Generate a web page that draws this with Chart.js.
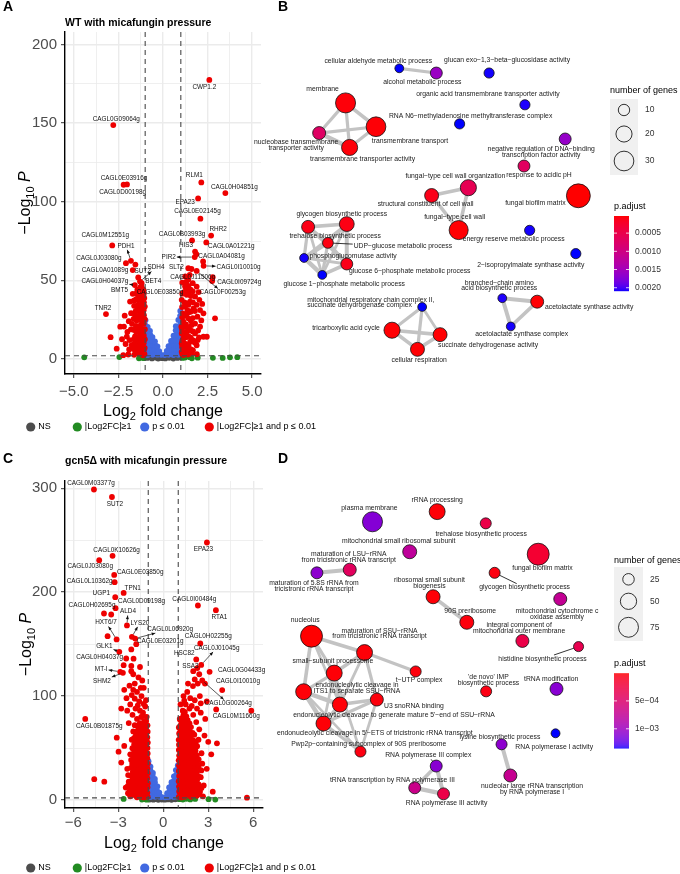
<!DOCTYPE html>
<html>
<head>
<meta charset="utf-8">
<title>Volcano plots and enrichment networks</title>
<script src="https://cdn.jsdelivr.net/npm/chart.js@4.4.1/dist/chart.umd.min.js"></script>
<style>
  html, body { margin: 0; padding: 0; background: #fff; }
  body { position: relative; width: 680px; height: 874px; overflow: hidden; font-family: 'Liberation Sans', Arial, sans-serif; }
  canvas { position: absolute; }
  .tag { position: absolute; font-weight: bold; font-size: 14px; line-height: 14px; color: #000; }
</style>
</head>
<body>
<canvas id="volcanoA" width="340" height="440" style="left:0;top:0"></canvas>
<canvas id="volcanoC" width="340" height="434" style="left:0;top:440px"></canvas>
<canvas id="networkB" width="444" height="440" style="left:236px;top:0"></canvas>
<canvas id="networkD" width="444" height="434" style="left:236px;top:440px"></canvas>
<div class="tag" style="left:3px;top:-1px">A</div>
<div class="tag" style="left:278px;top:-1px">B</div>
<div class="tag" style="left:3px;top:451px">C</div>
<div class="tag" style="left:278px;top:451px">D</div>
<script>
// ---------- volcano data (log2 fold change, -log10 p) ----------
const SERIES_NAMES = ['NS', '|Log2FC|\u22651', 'p \u2264 0.01', '|Log2FC|\u22651 and p \u2264 0.01'];
const FC_CUTOFF = 1;
const P_CUTOFF = 0.01;

// panel A: WT
const nsA = [[-0.88,0.6],[-0.74,1.3],[-0.62,0.3],[-0.5,1.6],[-0.38,0.8],[-0.27,0.2],[-0.16,1.2],[-0.06,0.5],[0.04,1.0],[0.13,0.3],[0.24,1.4],[0.35,0.7],[0.47,1.1],[0.58,0.2],[0.69,1.5],[0.82,0.6],[0.92,1.2],[-0.95,1.4],[-0.1,1.8],[0.3,1.85]];
const greenA = [[-4.42,1.0],[-2.45,1.2],[-1.35,0.4],[-1.27,0.8],[-1.18,1.1],[-1.08,0.5],[1.1,0.6],[1.24,0.9],[1.5,1.1],[1.62,0.4],[1.95,0.8],[2.8,0.7],[3.35,0.6],[3.76,1.0],[4.17,1.1]];
const blueA = [
  [-0.97,2.8],[-0.98,6.1],[-0.96,9.2],[-0.97,12.3],[-0.98,15.1],[-0.96,18.4],[-0.97,21.2],[-0.98,24.6],
  [-0.86,2.5],[-0.84,5.6],[-0.85,8.7],[-0.86,11.4],[-0.84,14.6],[-0.85,17.7],[-0.86,20.3],
  [-0.72,3.1],[-0.71,6.2],[-0.73,9.0],[-0.72,12.2],[-0.71,15.3],[-0.73,17.8],
  [-0.58,2.6],[-0.59,5.4],[-0.57,8.6],[-0.58,11.6],[-0.59,13.9],
  [-0.45,3.0],[-0.46,6.1],[-0.44,8.9],[-0.45,11.2],
  [-0.32,2.7],[-0.33,5.4],[-0.31,7.9],[-0.2,3.1],[-0.21,5.0],[-0.1,2.6],
  [0.97,2.9],[0.98,6.2],[0.96,9.1],[0.97,12.0],[0.98,15.2],[0.96,18.1],[0.97,21.3],[0.98,24.2],[0.96,27.4],[0.97,30.5],
  [0.85,2.6],[0.86,5.5],[0.84,8.4],[0.85,11.6],[0.86,14.5],[0.84,17.6],[0.85,20.7],[0.86,24.8],
  [0.72,3.0],[0.73,6.1],[0.71,9.2],[0.72,12.1],[0.73,14.9],[0.71,18.2],[0.72,20.8],
  [0.58,2.5],[0.59,5.6],[0.57,8.4],[0.58,11.7],[0.59,14.8],
  [0.45,3.1],[0.44,6.0],[0.46,9.1],[0.45,11.4],
  [0.32,2.6],[0.33,5.5],[0.31,8.1],[0.2,3.0],[0.21,5.1],[0.1,2.5]
];
const redA = [
  [-2.79,148.8],[-2.21,110.8],[-2.02,111.0],[-2.85,72.2],[-1.80,62.4],[-2.08,60.9],[-1.55,60.0],[-1.70,56.5],[-1.39,51.8],[-1.29,49.2],[-1.20,48.2],[-1.58,47.0],[-1.48,41.8],[-3.20,28.5],[-2.94,13.8],
  [-2.19,20.6],[-2.00,17.2],[-1.74,22.3],[-1.48,24.4],[-1.79,29.1],[-1.62,33.8],[-1.33,37.6],[-1.16,33.0],[-1.20,40.8],[-1.05,38.7],[-1.10,39.7],[-1.48,11.2],[-1.76,8.7],[-2.23,2.4],[-1.95,2.8],[-1.57,5.3],[-1.29,7.0],[-1.10,3.8],
  [-1.02,12.5],[-1.02,18.9],[-1.02,25.2],[-1.18,26.3],[-1.37,17.6],[-1.57,14.4],[-1.85,36.5],[-1.70,41.4],[-1.44,44.0],[-1.20,46.0],[-1.10,44.0],[-1.02,33.3],[-1.29,29.0],[-1.57,28.1],[-1.80,18.8],[-2.03,14.2],[-2.40,20.5],[-1.66,9.0],[-1.20,10.0],[-1.03,7.0],[-1.04,3.0],[-1.12,2.3],[-1.38,3.5],[-1.25,21.5],[-1.10,16.0],[-1.42,31.5],[-1.12,29.5],[-1.62,2.6],[-1.30,13.5],[-2.6,6.5],
  [-1.08,5.5],[-1.08,10.2],[-1.08,14.8],[-1.08,22.5],[-1.07,27.8],[-1.08,31.2],[-1.07,36.0],[-1.08,41.5],
  [-1.18,4.2],[-1.17,8.5],[-1.18,12.2],[-1.17,19.0],[-1.18,23.8],[-1.17,30.5],[-1.18,36.5],[-1.16,43.2],
  [-1.28,5.5],[-1.28,10.5],[-1.27,16.0],[-1.28,25.0],[-1.27,33.5],[-1.29,40.0],[-1.28,45.5],
  [-1.4,6.0],[-1.39,9.5],[-1.41,14.0],[-1.4,20.5],[-1.39,27.0],[-1.41,34.5],[-1.4,40.5],
  [-1.52,4.0],[-1.53,8.0],[-1.51,17.5],[-1.52,21.0],[-1.53,30.5],[-1.51,38.0],
  [-1.65,6.5],[-1.64,12.5],[-1.66,18.5],[-1.65,25.5],[-1.64,37.0],
  [-1.9,6.0],[-1.88,12.0],[-1.92,24.0],[-2.1,9.5],[-2.15,27.5],[-2.3,12.5],
  [2.60,177.5],[2.15,112.3],[3.50,105.5],[1.97,102.1],[2.10,89.2],[2.70,78.5],[1.63,75.4],[2.43,74.1],[1.80,68.3],[1.87,66.6],[1.78,64.8],[2.25,62.0],[2.28,59.2],[1.42,57.7],[1.60,57.2],[1.89,56.0],[2.79,52.0],[2.76,49.5],
  [1.42,50.3],[1.67,48.2],[1.89,46.0],[1.55,44.0],[1.33,40.8],[1.80,39.7],[2.04,37.6],[1.52,36.5],[1.24,33.3],[1.71,32.2],[2.08,31.1],[2.27,29.0],[1.93,26.9],[1.42,25.8],[1.14,23.7],[1.61,21.5],[2.08,20.5],[1.33,17.3],[1.80,16.2],[2.27,14.1],[2.02,13.7],[1.14,13.0],[1.52,10.9],[1.89,8.7],[1.33,6.6],[1.05,4.5],[1.61,3.4],[1.05,37.6],[1.11,29.0],[1.05,16.2],[1.24,46.0],[1.05,9.8],[1.37,31.1],[1.89,34.4],[2.92,25.8],[2.46,14.1],[1.15,2.5],[1.4,2.8],[1.9,3.0],[1.03,20.5],[1.25,52.5],[1.5,53.5],
  [1.08,3.2],[1.07,7.5],[1.08,11.5],[1.07,18.5],[1.08,26.5],[1.07,33.0],[1.08,41.5],[1.08,48.5],
  [1.18,5.8],[1.19,10.2],[1.18,15.5],[1.19,20.5],[1.18,27.5],[1.19,36.0],[1.18,42.5],
  [1.3,3.5],[1.29,9.2],[1.3,13.8],[1.29,22.0],[1.3,28.0],[1.29,35.5],[1.3,44.5],[1.3,49.0],
  [1.42,5.2],[1.43,8.6],[1.42,14.5],[1.43,20.0],[1.42,29.5],[1.43,34.5],[1.42,41.5],[1.43,46.5],
  [1.55,6.2],[1.56,13.5],[1.55,18.2],[1.56,24.5],[1.55,30.0],[1.56,40.0],
  [1.68,5.5],[1.67,12.0],[1.68,17.5],[1.67,26.0],[1.68,36.0],[1.67,43.0],
  [1.78,10.5],[1.8,22.5],[1.79,30.5],[1.95,12.0],[1.97,18.0],[2.0,42.5],[2.15,24.5],[2.2,35.0]
];
const labelGenesA = ['CWP1.2','CAGL0G09064g','CAGL0E03916g','CAGL0D00198g','RLM1','CAGL0H04851g','EPA23','CAGL0E02145g','RHR2','CAGL0B03993g','CAGL0A01221g','HIS3','PIR2','CAGL0A04081g','CAGL0I10010g','SLT2','SUT2','SDH4','BET4','CAGL0J11506g','CAGL0I09724g','CAGL0F00253g','CAGL0E03850g','CAGL0M12551g','PDH1','CAGL0J03080g','CAGL0A01089g','CAGL0H04037g','BMT5','TNR2'];
const labelFcA = [2.60,-2.79,-2.02,-2.21,2.15,3.50,1.97,2.10,2.70,1.63,2.43,1.80,1.78,2.25,2.28,1.42,-1.39,-1.29,-1.20,2.79,2.76,1.89,-1.10,-2.85,-1.80,-2.08,-1.70,-1.58,-1.48,-3.20];
const labelPA = [177.5,148.8,111.0,110.8,112.3,105.5,102.1,89.2,78.5,75.4,74.1,68.3,64.8,62.0,59.2,57.7,51.8,49.2,48.2,52.0,49.5,56.0,39.7,72.2,62.4,60.9,56.5,47.0,41.8,28.5];

// panel C: gcn5 deletion
const nsC = [[-0.9,0.5],[-0.78,1.3],[-0.66,0.3],[-0.55,1.5],[-0.44,0.8],[-0.33,0.2],[-0.22,1.1],[-0.1,0.5],[0.0,0.9],[0.1,0.3],[0.2,1.3],[0.31,0.6],[0.43,1.0],[0.55,0.2],[0.67,1.4],[0.8,0.7],[0.92,1.1],[-0.05,1.7],[0.36,1.8],[-0.47,1.9]];
const greenC = [[-2.64,1.0],[-1.42,0.5],[-1.33,1.2],[-1.2,0.7],[-1.08,0.3],[1.1,0.8],[1.31,0.4],[1.55,1.1],[1.8,0.6],[2.13,1.0],[3.02,0.8],[3.47,0.4],[1.22,1.4],[-1.15,1.5]];
const blueC = [
  [-0.97,4.1],[-0.98,9.0],[-0.96,13.8],[-0.97,19.1],[-0.98,23.9],[-0.96,29.2],[-0.97,33.8],[-0.98,37.3],
  [-0.85,2.8],[-0.86,8.1],[-0.84,12.9],[-0.85,18.2],[-0.86,22.8],[-0.84,27.9],[-0.85,32.1],
  [-0.70,4.2],[-0.71,8.9],[-0.69,14.1],[-0.70,18.8],[-0.71,23.9],[-0.69,26.2],
  [-0.55,3.1],[-0.56,7.9],[-0.54,12.8],[-0.55,16.9],[-0.56,20.2],
  [-0.40,4.0],[-0.41,8.8],[-0.39,13.1],[-0.25,3.2],[-0.26,7.1],[-0.12,2.9],
  [0.97,3.2],[0.98,8.1],[0.96,12.8],[0.97,18.2],[0.98,22.9],[0.96,28.1],[0.97,33.2],
  [0.85,4.1],[0.86,8.9],[0.84,14.2],[0.85,18.9],[0.86,24.1],[0.84,28.8],
  [0.70,3.0],[0.71,8.2],[0.69,12.9],[0.70,18.1],[0.71,22.8],
  [0.55,4.1],[0.56,8.8],[0.54,13.9],[0.55,17.2],
  [0.40,3.1],[0.41,7.9],[0.39,12.1],[0.25,2.9],[0.26,6.6],[0.12,2.6]
];
const redC = [
  [-1.04,3.2],[-1.06,7.1],[-1.05,12.3],[-1.03,16.2],[-1.06,21.1],[-1.04,25.8],[-1.05,30.3],[-1.03,35.1],[-1.06,40.2],[-1.04,44.8],[-1.05,50.1],[-1.03,55.3],[-1.06,60.2],[-1.04,65.8],[-1.05,71.9],
  [-1.15,5.5],[-1.16,10.5],[-1.14,15.0],[-1.15,19.8],[-1.16,24.5],[-1.14,29.8],[-1.15,34.5],[-1.16,39.8],[-1.14,44.8],[-1.15,49.5],[-1.16,54.8],[-1.14,59.5],[-1.15,64.5],[-1.16,69.8],[-1.14,76.0],
  [-1.24,4.1],[-1.26,9.2],[-1.25,13.8],[-1.23,18.3],[-1.27,23.1],[-1.24,28.2],[-1.26,32.8],[-1.25,38.1],[-1.23,42.9],[-1.27,48.2],[-1.24,52.8],[-1.26,58.1],[-1.25,63.2],[-1.23,68.9],[-1.27,75.8],
  [-1.35,6.2],[-1.36,11.1],[-1.34,16.3],[-1.35,21.0],[-1.36,26.2],[-1.34,31.0],[-1.35,36.1],[-1.36,41.2],[-1.34,46.0],[-1.35,51.1],[-1.36,56.3],[-1.34,61.2],[-1.35,66.5],[-1.36,73.0],[-1.34,81.0],
  [-1.44,3.1],[-1.46,8.2],[-1.45,12.9],[-1.43,19.1],[-1.47,23.8],[-1.44,29.2],[-1.46,33.9],[-1.45,39.1],[-1.43,43.8],[-1.47,49.2],[-1.44,54.1],[-1.46,58.8],[-1.45,65.1],[-1.43,70.8],[-1.47,79.9],
  [-1.55,5.8],[-1.56,10.2],[-1.54,16.0],[-1.55,21.5],[-1.56,26.8],[-1.54,31.5],[-1.55,36.8],[-1.56,41.5],[-1.54,46.5],[-1.55,51.5],[-1.56,56.0],[-1.54,61.8],[-1.55,67.5],[-1.56,74.0],
  [-1.64,5.2],[-1.66,9.8],[-1.65,15.1],[-1.63,21.2],[-1.67,25.9],[-1.64,31.1],[-1.66,36.2],[-1.65,41.8],[-1.63,47.1],[-1.67,51.9],[-1.64,57.2],[-1.66,62.8],[-1.65,68.1],
  [-1.75,7.2],[-1.76,12.5],[-1.74,18.2],[-1.75,23.8],[-1.76,29.5],[-1.74,34.8],[-1.75,40.2],[-1.76,45.0],[-1.74,49.8],[-1.75,54.5],[-1.76,60.2],[-1.74,66.0],[-1.75,71.5],
  [-1.84,4.1],[-1.86,9.2],[-1.85,15.9],[-1.83,22.1],[-1.87,27.8],[-1.84,34.2],[-1.86,39.8],[-1.85,46.1],[-1.83,50.9],[-1.87,56.2],[-1.84,61.8],
  [-1.95,6.8],[-1.96,12.0],[-1.94,18.8],[-1.95,25.0],[-1.96,31.2],[-1.94,37.5],[-1.95,43.8],[-1.96,48.2],[-1.94,53.5],[-1.95,59.5],
  [-2.04,6.1],[-2.06,12.8],[-2.05,20.2],[-2.03,27.1],[-2.07,34.8],[-2.04,43.1],[-2.06,49.8],
  [-2.15,4.5],[-2.16,10.5],[-2.14,16.5],[-2.15,23.5],[-2.16,31.0],[-2.14,38.5],[-2.35,6.5],[-2.36,13.5],[-2.34,24.0],
  [-2.25,8.0],[-2.30,17.6],[-2.40,30.0],[-2.50,12.0],[-2.20,44.0],[-2.10,58.0],[-2.00,66.0],[-1.90,72.0],[-1.75,78.0],[-1.55,86.0],[-1.35,84.0],[-1.20,90.0],[-1.60,95.0],[-1.85,88.0],[-2.05,82.0],[-2.30,74.0],[-2.60,52.0],[-2.80,36.0],[-2.98,46.5],[-3.93,17.6],[-4.60,20.0],[-5.20,78.0],
  [-1.3,92.5],[-1.7,91.0],[-1.9,97.5],[-2.2,92.0],[-1.5,108.0],[-2.0,106.0],
  [-2.45,98.0],[-2.10,101.0],[-1.75,104.0],[-1.45,100.0],[-1.30,108.0],[-1.90,112.0],[-2.25,110.0],[-2.60,106.0],[-1.65,118.0],[-2.00,121.0],[-1.55,128.0],[-2.13,124.0],[-2.69,122.4],[-2.87,123.4],[-2.13,129.0],[-2.64,129.8],[-1.98,136.0],[-2.47,136.2],[-2.13,144.9],[-2.93,142.6],[-3.11,154.5],[-3.71,157.7],[-1.87,155.4],[-2.09,157.0],[-1.80,150.0],[-2.42,168.0],[-3.47,178.5],[-3.95,179.5],[-3.18,184.6],[-3.20,195.2],[-2.64,199.3],[-3.24,209.6],[-3.27,216.6],[-4.27,230.8],[-3.38,235.0],[-3.42,291.6],[-4.62,298.8],[-1.15,96.0],[-1.40,115.0],[-2.80,88.0],[-3.10,60.0],[-2.40,86.0],[-1.10,80.0],[-1.3,2.5],[-2.2,3.5],[-1.75,2.6],
  [1.04,3.1],[1.06,8.2],[1.05,12.9],[1.03,18.1],[1.06,23.2],[1.04,27.9],[1.05,33.1],[1.03,38.2],[1.06,42.8],[1.04,48.1],[1.05,53.2],[1.03,57.9],[1.06,64.1],[1.04,69.8],
  [1.15,5.5],[1.16,10.5],[1.14,15.5],[1.15,20.6],[1.16,25.5],[1.14,30.5],[1.15,35.6],[1.16,40.5],[1.14,45.5],[1.15,50.5],[1.16,55.6],[1.14,60.8],[1.15,66.5],[1.16,72.0],[1.14,77.0],
  [1.24,5.1],[1.26,9.8],[1.25,15.2],[1.23,20.1],[1.27,24.8],[1.24,30.2],[1.26,35.1],[1.25,39.8],[1.23,46.1],[1.27,50.9],[1.24,56.2],[1.26,61.1],[1.25,66.8],[1.23,72.9],[1.27,79.1],
  [1.35,3.5],[1.36,7.8],[1.34,12.5],[1.35,17.8],[1.36,22.5],[1.34,27.6],[1.35,32.5],[1.36,37.5],[1.34,42.6],[1.35,48.0],[1.36,53.5],[1.34,58.5],[1.35,63.8],[1.36,69.5],[1.34,75.5],[1.35,82.0],
  [1.44,3.2],[1.46,7.9],[1.45,13.1],[1.43,18.2],[1.47,23.9],[1.44,29.1],[1.46,33.8],[1.45,39.2],[1.43,44.1],[1.47,49.8],[1.44,55.1],[1.46,60.2],[1.45,65.8],[1.43,72.1],[1.47,77.9],[1.44,84.8],
  [1.55,5.8],[1.56,10.5],[1.54,15.6],[1.55,21.2],[1.56,26.0],[1.54,31.5],[1.55,36.5],[1.56,41.2],[1.54,46.8],[1.55,52.0],[1.56,57.5],[1.54,62.8],[1.55,68.5],[1.56,74.5],[1.54,80.5],
  [1.64,5.2],[1.66,10.9],[1.65,16.1],[1.63,20.8],[1.67,27.1],[1.64,31.9],[1.66,37.2],[1.65,42.8],[1.63,48.1],[1.67,52.9],[1.64,59.1],[1.66,64.8],[1.65,71.2],[1.63,76.9],
  [1.75,6.5],[1.76,11.8],[1.74,17.2],[1.75,23.0],[1.76,28.5],[1.74,34.2],[1.75,39.5],[1.76,45.2],[1.74,50.5],[1.75,55.8],[1.76,61.5],[1.74,67.5],[1.75,73.8],
  [1.84,3.1],[1.86,8.9],[1.85,14.2],[1.83,19.8],[1.87,25.1],[1.84,30.9],[1.86,36.1],[1.85,41.8],[1.83,47.2],[1.87,52.8],[1.84,58.1],[1.86,63.9],[1.85,70.2],
  [1.95,4.8],[1.96,10.8],[1.94,16.5],[1.95,22.2],[1.96,27.8],[1.94,33.5],[1.95,39.2],[1.96,45.5],[1.94,51.5],[1.95,57.8],[1.96,64.5],
  [2.04,6.1],[2.06,11.8],[2.05,18.2],[2.03,23.9],[2.07,30.1],[2.04,36.8],[2.06,43.9],[2.05,50.2],[2.03,56.8],[2.07,62.9],
  [2.15,7.5],[2.16,14.8],[2.14,21.5],[2.15,28.8],[2.16,33.0],[2.14,40.2],[2.15,47.5],[2.16,55.0],
  [2.24,4.2],[2.26,10.9],[2.25,19.1],[2.23,26.8],[2.27,35.2],[2.24,42.9],[2.26,51.8],
  [2.35,5.5],[2.36,15.0],[2.34,23.0],[2.35,31.5],[2.36,39.0],[2.55,11.5],[2.54,28.5],
  [2.45,8.0],[2.50,22.0],[2.60,35.0],[2.70,14.0],[2.90,30.0],[3.20,44.0],[3.58,54.5],[3.00,56.0],[2.75,62.0],[2.40,68.0],[2.20,75.0],[2.00,82.0],[1.75,88.0],[1.50,92.0],[1.30,86.0],[2.50,84.0],[2.80,78.0],[3.53,87.2],
  [1.4,95.5],[1.9,90.5],[2.25,88.0],[1.65,112.0],[2.0,124.0],[2.5,93.0],
  [2.44,100.0],[2.10,96.0],[1.80,98.0],[1.60,104.0],[1.98,109.6],[2.30,112.0],[2.78,112.0],[3.93,105.8],[2.60,115.0],[2.40,121.0],[2.10,116.0],[3.09,123.4],[2.27,127.0],[2.53,130.0],[2.20,135.3],[2.47,150.6],[2.31,187.2],[3.51,182.7],[2.91,247.8],[5.87,86.0],[5.58,2.2],[3.30,8.0],[1.15,92.0],[1.35,100.0],[2.90,95.0],[2.55,45.0],[2.35,58.0],[1.10,78.0],[2.65,3.5],[1.20,2.5]
];
const labelGenesC = ['CAGL0M03377g','SUT2','CAGL0K10626g','CAGL0J03080g','CAGL0E03850g','CAGL0L10362g','TPN1','UGP1','CAGL0H02695g','CAGL0D09198g','ALD4','LYS20','CAGL0L06920g','CAGL0E03201g','HXT6/7','GLK1','CAGL0H04037g','MT-I','SHM2','CAGL0B01875g','EPA23','CAGL0I00484g','RTA1','CAGL0H02255g','HSC82','CAGL0J01045g','SSA3','CAGL0G04433g','CAGL0I10010g','CAGL0G00264g','CAGL0M11660g'];
const labelFcC = [-4.62,-3.42,-3.38,-4.27,-3.27,-3.24,-2.64,-3.20,-3.95,-3.18,-2.42,-2.09,-1.87,-1.80,-3.11,-2.93,-2.64,-2.87,-2.69,-5.20,2.91,2.31,3.51,2.47,2.20,2.53,2.27,3.09,2.78,2.60,3.53];
const labelPC = [298.8,291.6,235.0,230.8,216.6,209.6,199.3,195.2,179.5,184.6,168.0,157.0,155.4,150.0,154.5,142.6,129.8,123.4,122.4,78.0,247.8,187.2,182.7,150.6,135.3,130.0,127.0,123.4,112.0,115.0,87.2];

// axis ticks
const xTicksA = [-5, -2.5, 0, 2.5, 5], xMinorA = [-3.75, -1.25, 1.25, 3.75];
const yTicksA = [0, 50, 100, 150, 200], yMinorA = [25, 75, 125, 175];
const xTicksC = [-6, -3, 0, 3, 6], xMinorC = [-4.5, -1.5, 1.5, 4.5];
const yTicksC = [0, 100, 200, 300], yMinorC = [50, 150, 250];

// ---------- enrichment network data ----------
const termsB = ['cellular aldehyde metabolic process','alcohol metabolic process','glucan exo\u22121,3\u2212beta\u2212glucosidase activity','organic acid transmembrane transporter activity','RNA N6\u2212methyladenosine methyltransferase complex','membrane','transmembrane transport','nucleobase transmembrane\ntransporter activity','transmembrane transporter activity','negative regulation of DNA\u2212binding\ntranscription factor activity','response to acidic pH','fungal\u2212type cell wall organization','structural constituent of cell wall','fungal biofilm matrix','fungal\u2212type cell wall','energy reserve metabolic process','2\u2212isopropylmalate synthase activity','glycogen biosynthetic process','trehalose biosynthetic process','UDP\u2212glucose metabolic process','phosphoglucomutase activity','glucose 6\u2212phosphate metabolic process','glucose 1\u2212phosphate metabolic process','branched\u2212chain amino\nacid biosynthetic process','acetolactate synthase activity','acetolactate synthase complex','mitochondrial respiratory chain complex II,\nsuccinate dehydrogenase complex','tricarboxylic acid cycle','succinate dehydrogenase activity','cellular respiration'];
const xB = [39.57,43.50,49.10,52.90,45.97,33.87,37.10,31.07,34.30,57.17,52.80,46.90,43.00,58.57,45.87,53.40,58.30,34.00,29.90,32.00,29.47,34.00,31.40,50.50,54.20,51.40,42.00,38.80,43.90,41.50];
const yB = [5.90,6.40,6.40,9.77,11.80,9.57,12.10,12.77,14.30,13.40,16.27,18.57,19.40,19.43,23.07,23.10,25.57,22.43,22.73,24.43,26.03,26.67,27.83,30.30,30.67,33.30,31.23,33.70,34.17,35.73];
const genesB = [6,11,8,8,8,31,30,13,20,11,11,20,15,44,28,8,8,17,13,9,6,11,6,6,13,6,6,20,15,15];
const padjB = [0.00209,0.00158,0.00208,0.00207,0.00209,0.00006,0.00005,0.00072,0.00006,0.00162,0.00068,0.00058,0.00012,0.00003,0.00004,0.00208,0.00209,0.00010,0.00011,0.00009,0.00208,0.00012,0.00209,0.00207,0.00004,0.00208,0.00209,0.00004,0.00004,0.00004];
const edgesB = [[0,1],[5,6],[5,7],[5,8],[7,6],[7,8],[6,8],[11,12],[12,14],[11,14],[17,18],[17,19],[17,20],[17,21],[18,19],[18,20],[18,22],[19,20],[19,21],[19,22],[20,21],[20,22],[21,22],[18,21],[17,22],[23,24],[23,25],[24,25],[26,27],[26,28],[26,29],[27,28],[27,29],[28,29]];
const edgeSimB = [0.5,0.6,0.5,0.5,0.5,0.8,0.5,0.6,0.6,0.6,0.6,0.5,0.4,0.7,0.6,0.5,0.4,0.6,0.6,0.5,0.4,0.8,0.6,0.4,0.4,0.7,0.7,0.6,0.5,0.4,0.5,0.6,0.6,0.6];
const sizeBreaksB = [10, 20, 30];
const padjBreaksB = [0.0005, 0.0010, 0.0015, 0.0020];

const termsD = ['rRNA processing','plasma membrane','trehalose biosynthetic process','mitochondrial small ribosomal subunit','fungal biofilm matrix','maturation of LSU\u2212rRNA\nfrom tricistronic rRNA transcript','maturation of 5.8S rRNA from\ntricistronic rRNA transcript','glycogen biosynthetic process','ribosomal small subunit\nbiogenesis','90S preribosome','mitochondrial cytochrome c\noxidase assembly','integral component of\nmitochondrial outer membrane','histidine biosynthetic process','nucleolus','maturation of SSU\u2212rRNA\nfrom tricistronic rRNA transcript','small\u2212subunit processome','t\u2212UTP complex','endonucleolytic cleavage in\nITS1 to separate SSU\u2212rRNA','endonucleolytic cleavage to generate mature 5\'\u2212end of SSU\u2212rRNA','U3 snoRNA binding','endonucleolytic cleavage in 5\'\u2212ETS of tricistronic rRNA transcript','Pwp2p\u2212containing subcomplex of 90S preribosome','\'de novo\' IMP\nbiosynthetic process','tRNA modification','RNA polymerase I activity','lysine biosynthetic process','nucleolar large rRNA transcription\nby RNA polymerase I','RNA polymerase III complex','tRNA transcription by RNA polymerase III','RNA polymerase III activity'];
const xD = [43.60,36.77,48.73,40.70,54.27,34.37,30.90,49.67,43.17,46.73,56.60,52.60,58.53,30.33,35.93,32.73,41.33,29.50,33.33,37.23,31.60,35.50,48.77,56.20,56.10,50.40,51.33,43.50,41.23,44.27];
const yD = [50.33,51.40,51.57,54.57,54.83,56.47,56.80,56.80,59.33,62.03,59.57,64.00,64.60,63.50,65.23,67.40,67.23,69.37,70.73,70.20,72.73,75.70,69.33,69.07,73.77,74.93,78.23,77.23,79.53,80.17];
const genesD = [48,76,23,37,91,32,27,23,37,37,32,32,19,91,48,48,23,48,43,32,43,23,23,32,15,23,32,27,27,27];
const padjD = [0.00002,0.00112,0.00030,0.00078,0.00018,0.00042,0.00108,0.00004,0.00002,0.00003,0.00074,0.00030,0.00034,0.000005,0.00002,0.00002,0.00003,0.00002,0.00002,0.00003,0.00002,0.00004,0.00005,0.00110,0.00135,0.00108,0.00072,0.00110,0.00068,0.00030];
const edgesD = [[5,6],[8,9],[13,14],[13,15],[13,17],[13,18],[14,15],[14,16],[14,19],[14,18],[15,17],[15,18],[15,20],[15,21],[17,18],[17,20],[18,19],[18,20],[19,20],[19,21],[17,21],[20,21],[25,26],[27,28],[27,29],[28,29]];
const edgeSimD = [0.7,0.6,0.6,0.5,0.6,0.4,0.6,0.5,0.5,0.4,0.5,0.5,0.4,0.4,0.8,0.8,0.6,0.6,0.5,0.4,0.35,0.5,0.7,0.6,0.7,0.8];
const sizeBreaksD = [25, 50, 75];
const padjBreaksD = [0.0005, 0.0010];

// ---------- layout / style ----------
const FONT = "'Liberation Sans', Arial, sans-serif";
const COLORS = ['#4d4d4d', '#228B22', '#4169E1', '#EE0000'];
const LEGEND_DOT_X = [30.7, 77.3, 144.7, 209.3];
const offsetsA = [[-5,7.5,0],[3,-6,0],[-3,-6,0],[-1,7.5,0],[-7,-7,0],[9,-6,0],[-13,3.5,0],[-3,-7,0],[7,-6,0],[-10,-6,0],[25,3.5,0],[-9,-6,1],[-26,0,1],[18.5,-5,0],[35,1,1],[-12,-1,0],[4.4,-6.7,1],[16,-14,1],[11.6,-1.6,0],[-20,0.5,0],[27,1.5,0],[26,21.7,1],[16.6,-4,0],[-7,-10,0],[-5,-15,1],[-27,-5,0],[-27.7,0,0],[-30,-4,1],[-17,-2.6,0],[-3,-6,0]];
const offsetsC = [[-3,-6,0],[3,7,0],[4,-6,0],[-9,6,0],[26,-2.5,0],[-25,-0.7,0],[9,-4.5,0],[-14,-3.7,0],[-12,-8,0],[26,-7,0],[1,-14,1],[8,-14,1],[35,-9.4,1],[24,-3,1],[-10.6,-17,1],[-15,-6,1],[-24,-8,0],[-19,-3,1],[-21,8,1],[14,7,0],[-3.5,7,0],[-3.5,-6,0],[3.5,6.7,0],[8,-7,0],[-12,-6,0],[15.5,-17,1],[-7,-2,0],[32,-2,0],[33,-2,0],[26,23,1],[20,7,0]];
const lblOffB = [[-21,-7],[-14,9],[18,-13],[-37,-10.7],[11,-8],[-23,-13.7],[34,14],[-23,12.3],[13,12],[-24,13.5],[15,9],[-13,-12],[-6,9],[-43,7.4],[-4,-12.7],[-16,8.3],[-45,11],[-5,-10],[27,9],[75,3.7],[49,-2.3],[63,7],[22,9],[-3,-12.5],[52,5.3],[11,8],[-115,-4.4],[-46,-2],[48,10.3],[1.7,11]];
const lblOffD = [[0,-11.6],[-3,-13.7],[-4.6,10.6],[-11,-10.4],[4.3,14],[-1,-12.7],[-3,13],[30,14.7],[-3.7,-13.8],[3.4,-11.6],[-3.3,15],[-3.3,-12.8],[-36,12.3],[-6.3,-15.7],[15,-19],[-1.3,-11.7],[3.4,9],[53.3,-3.4],[54,10.4],[37,7],[51.3,9.4],[8.3,-7.7],[2.3,-11.3],[-5.3,-10],[-1.3,13.3],[-1.7,-7],[21.7,13.7],[-8,-10.6],[-22.3,-7.6],[3,9.3]];

Chart.defaults.font.family = FONT;

// ---------- colour helpers (CIELAB interpolation, like ggplot) ----------
function toLinear(c) { c /= 255; return c <= 0.04045 ? c / 12.92 : Math.pow((c + 0.055) / 1.055, 2.4); }
function fromLinear(c) { const v = c <= 0.0031308 ? 12.92 * c : 1.055 * Math.pow(c, 1 / 2.4) - 0.055; return Math.round(Math.min(1, Math.max(0, v)) * 255); }
function rgbToLab(rgb) {
  const [r, g, b] = rgb.map(toLinear);
  const X = (0.4124564 * r + 0.3575761 * g + 0.1804375 * b) / 0.95047;
  const Y = 0.2126729 * r + 0.7151522 * g + 0.0721750 * b;
  const Z = (0.0193339 * r + 0.1191920 * g + 0.9503041 * b) / 1.08883;
  const f = t => t > 216 / 24389 ? Math.cbrt(t) : t / (3 * (6 / 29) ** 2) + 4 / 29;
  return [116 * f(Y) - 16, 500 * (f(X) - f(Y)), 200 * (f(Y) - f(Z))];
}
function labToRgb([L, a, bb]) {
  const fy = (L + 16) / 116, fx = fy + a / 500, fz = fy - bb / 200;
  const fi = t => t > 6 / 29 ? t * t * t : 3 * (6 / 29) ** 2 * (t - 4 / 29);
  const X = fi(fx) * 0.95047, Y = fi(fy), Z = fi(fz) * 1.08883;
  const r = 3.2404542 * X - 1.5371385 * Y - 0.4985314 * Z;
  const g = -0.9692660 * X + 1.8760108 * Y + 0.0415560 * Z;
  const b = 0.0556434 * X - 0.2040259 * Y + 1.0572252 * Z;
  return [fromLinear(r), fromLinear(g), fromLinear(b)];
}
const LAB_LOW = rgbToLab([255, 0, 0]), LAB_HIGH = rgbToLab([0, 0, 255]);
function gradientColor(t) {
  t = Math.min(1, Math.max(0, t));
  const lab = LAB_LOW.map((v, i) => v + (LAB_HIGH[i] - v) * t);
  const [r, g, b] = labToRgb(lab);
  return `rgb(${r},${g},${b})`;
}

// ---------- drawing helpers ----------
function leader(ctx, px, py, cx, cy, w, h, r, arrow) {
  const dx = px - cx, dy = py - cy;
  const tx = dx ? (w / 2 + 1) / Math.abs(dx) : Infinity;
  const ty = dy ? (h / 2 + 1) / Math.abs(dy) : Infinity;
  const t = Math.min(tx, ty);
  if (t >= 1) return;
  const sx = cx + dx * t, sy = cy + dy * t;
  const len = Math.hypot(px - sx, py - sy);
  if (len <= r + 1) return;
  const ux = (px - sx) / len, uy = (py - sy) / len;
  const ex = px - ux * r, ey = py - uy * r;
  ctx.beginPath(); ctx.moveTo(sx, sy); ctx.lineTo(ex, ey); ctx.stroke();
  if (arrow) {
    const a = 2.6;
    ctx.beginPath();
    ctx.moveTo(sx, sy);
    ctx.lineTo(sx + ux * a * 1.4 - uy * a * 0.6, sy + uy * a * 1.4 + ux * a * 0.6);
    ctx.lineTo(sx + ux * a * 1.4 + uy * a * 0.6, sy + uy * a * 1.4 - ux * a * 0.6);
    ctx.closePath(); ctx.fill();
  }
}

function richText(ctx, segs, x, y, rotate) {
  ctx.save();
  ctx.translate(x, y);
  if (rotate) ctx.rotate(-Math.PI / 2);
  const fontOf = s => `${s.italic ? 'italic ' : ''}${s.size}px ${FONT}`;
  let total = 0;
  segs.forEach(s => { ctx.font = fontOf(s); s.w = ctx.measureText(s.t).width; total += s.w; });
  let cx = -total / 2;
  ctx.textAlign = 'left'; ctx.textBaseline = 'alphabetic'; ctx.fillStyle = '#000';
  segs.forEach(s => { ctx.font = fontOf(s); ctx.fillText(s.t, cx, 5.8 + (s.dy || 0)); cx += s.w; });
  ctx.restore();
}

function linearAxis(min, max, major, minor, fmt, isX, size, pad) {
  const all = major.concat(minor).sort((a, b) => a - b);
  const isMajor = v => major.some(m => Math.abs(m - v) < 1e-9);
  return {
    type: 'linear', min, max,
    afterBuildTicks: ax => { ax.ticks = all.map(v => ({ value: v })); },
    afterFit: ax => { if (isX) ax.height = size; else ax.width = size; },
    ticks: { autoSkip: false, maxRotation: 0, padding: pad, color: '#4d4d4d', font: { size: 15 },
      callback: v => isMajor(v) ? fmt(v) : '' },
    grid: {
      color: '#ebebeb',
      lineWidth: c => (c.tick && isMajor(c.tick.value)) ? 1.4 : 0.8,
      tickLength: 4,
      tickColor: c => (c.tick && isMajor(c.tick.value)) ? '#333' : 'rgba(0,0,0,0)',
      tickWidth: 1
    },
    border: { display: true, color: '#000', width: 1.4 }
  };
}

const signed = d => v => (v < 0 ? '\u2212' : '') + Math.abs(v).toFixed(d);

// ---------- volcano ----------
function makeVolcano(id, s) {
  const canvas = document.getElementById(id);
  const W = canvas.width, H = canvas.height, L = s.layout;
  const ds = (arr, i, order) => ({
    label: SERIES_NAMES[i], data: arr.map(([x, y]) => ({ x, y })),
    backgroundColor: COLORS[i], borderWidth: 0, pointRadius: 2.9, pointHoverRadius: 2.9, order
  });
  const decor = {
    id: 'volcanoDecor',
    afterDatasetsDraw(chart) {
      const { ctx, chartArea: a } = chart, sx = chart.scales.x, sy = chart.scales.y;
      ctx.save();
      ctx.beginPath(); ctx.rect(a.left, a.top, a.right - a.left, a.bottom - a.top); ctx.clip();
      ctx.setLineDash([5, 4]); ctx.strokeStyle = '#4a4a4a'; ctx.lineWidth = 1.1;
      ctx.beginPath();
      [-FC_CUTOFF, FC_CUTOFF].forEach(v => { const p = sx.getPixelForValue(v); ctx.moveTo(p, a.top); ctx.lineTo(p, a.bottom); });
      const hp = sy.getPixelForValue(-Math.log10(P_CUTOFF));
      ctx.moveTo(a.left, hp); ctx.lineTo(a.right, hp);
      ctx.stroke();
      ctx.restore();

      ctx.save();
      ctx.font = `6.4px ${FONT}`; ctx.fillStyle = '#111'; ctx.strokeStyle = '#111'; ctx.lineWidth = 0.7;
      ctx.textAlign = 'center'; ctx.textBaseline = 'middle';
      s.genes.forEach((g, i) => {
        const px = sx.getPixelForValue(s.fc[i]), py = sy.getPixelForValue(s.p[i]);
        const [dx, dy, lead] = s.offsets[i];
        const cx = px + dx, cy = py + dy;
        if (lead) leader(ctx, px, py, cx, cy, ctx.measureText(g).width, 6, 3, true);
        ctx.fillText(g, cx, cy);
      });
      ctx.restore();
    },
    afterDraw(chart) {
      const { ctx, chartArea: a } = chart;
      ctx.save();
      ctx.font = `bold 10.5px ${FONT}`; ctx.fillStyle = '#000'; ctx.textAlign = 'left'; ctx.textBaseline = 'middle';
      ctx.fillText(s.title, a.left, L.titleY);
      richText(ctx, [{ t: 'Log', size: 16 }, { t: '2', size: 11, dy: 4 }, { t: ' fold change', size: 16 }], (a.left + a.right) / 2, L.xTitleY, false);
      richText(ctx, [{ t: '\u2212Log', size: 16 }, { t: '10', size: 11, dy: 4 }, { t: ' ', size: 16 }, { t: 'P', size: 16, italic: true }], L.yTitleX, (a.top + a.bottom) / 2, true);
      ctx.font = `9px ${FONT}`; ctx.textBaseline = 'middle'; ctx.textAlign = 'left';
      SERIES_NAMES.forEach((name, i) => {
        ctx.fillStyle = COLORS[i];
        ctx.beginPath(); ctx.arc(LEGEND_DOT_X[i], L.legendY, 4.6, 0, Math.PI * 2); ctx.fill();
        ctx.fillStyle = '#000';
        ctx.fillText(name, LEGEND_DOT_X[i] + 7.5, L.legendY);
      });
      ctx.restore();
    }
  };
  new Chart(canvas, {
    type: 'scatter',
    data: { datasets: [ds(s.red, 3, 0), ds(s.blue, 2, 1), ds(s.green, 1, 2), ds(s.ns, 0, 3)] },
    options: {
      responsive: false, animation: false, events: [],
      layout: { padding: { top: L.top, right: W - L.right, bottom: 0, left: 0 } },
      plugins: { legend: { display: false }, tooltip: { enabled: false }, title: { display: false } },
      scales: {
        x: linearAxis(s.xMin, s.xMax, s.xTicks, s.xMinor, s.xFmt, true, H - L.bottom, L.xPad),
        y: linearAxis(s.yMin, s.yMax, s.yTicks, s.yMinor, signed(0), false, L.left, 4)
      }
    },
    plugins: [decor]
  });
}

makeVolcano('volcanoA', {
  title: 'WT with micafungin pressure',
  ns: nsA, green: greenA, blue: blueA, red: redA,
  genes: labelGenesA, fc: labelFcA, p: labelPA, offsets: offsetsA,
  xMin: -5.5, xMax: 5.5, yMin: -9.6, yMax: 208,
  xTicks: xTicksA, xMinor: xMinorA, yTicks: yTicksA, yMinor: yMinorA, xFmt: signed(1),
  layout: { top: 32, bottom: 374, left: 65, right: 261, titleY: 23, xTitleY: 410, yTitleX: 24, legendY: 427, xPad: 5 }
});
makeVolcano('volcanoC', {
  title: 'gcn5\u0394 with micafungin pressure',
  ns: nsC, green: greenC, blue: blueC, red: redC,
  genes: labelGenesC, fc: labelFcC, p: labelPC, offsets: offsetsC,
  xMin: -6.55, xMax: 6.65, yMin: -7.7, yMax: 307,
  xTicks: xTicksC, xMinor: xMinorC, yTicks: yTicksC, yMinor: yMinorC, xFmt: signed(0),
  layout: { top: 41, bottom: 368, left: 65, right: 263, titleY: 21, xTitleY: 402, yTitleX: 25, legendY: 428, xPad: 2 }
});

// ---------- networks ----------
function makeNetwork(id, s) {
  const canvas = document.getElementById(id);
  const ox = parseFloat(canvas.style.left), oy = parseFloat(canvas.style.top);
  const pmin = Math.min(...s.padj), pmax = Math.max(...s.padj);
  const colorOf = p => gradientColor((p - pmin) / (pmax - pmin));
  const edgeSets = s.edges.map(([i, j], k) => ({
    data: [{ x: s.x[i], y: s.y[i] }, { x: s.x[j], y: s.y[j] }],
    showLine: true, pointRadius: 0, borderColor: '#c3c3c3', borderWidth: 1.2 + s.sim[k] * 4, order: 1
  }));
  const nodeSet = {
    data: s.x.map((x, i) => ({ x, y: s.y[i] })),
    pointRadius: c => s.radius(s.genes[c.dataIndex]),
    pointHoverRadius: c => s.radius(s.genes[c.dataIndex]),
    pointBackgroundColor: c => colorOf(s.padj[c.dataIndex]),
    pointBorderColor: '#111', pointBorderWidth: 0.8, showLine: false, order: 0
  };
  const decor = {
    id: 'networkDecor',
    afterDatasetsDraw(chart) {
      const { ctx } = chart, sx = chart.scales.x, sy = chart.scales.y;
      ctx.save();
      ctx.font = `6.8px ${FONT}`; ctx.fillStyle = '#1a1a1a'; ctx.strokeStyle = '#000'; ctx.lineWidth = 0.8;
      ctx.textBaseline = 'middle';
      s.terms.forEach((term, i) => {
        const px = sx.getPixelForValue(s.x[i]), py = sy.getPixelForValue(s.y[i]);
        const [dx, dy] = s.offsets[i];
        const lines = term.split('\n');
        const lh = 5.8;
        const left = s.leftAligned.includes(i);
        ctx.textAlign = left ? 'left' : 'center';
        const cx = px + dx, cy = py + dy;
        if (s.leaders.includes(i)) {
          const w = Math.max(...lines.map(l => ctx.measureText(l).width));
          leader(ctx, px, py, left ? cx + w / 2 : cx, cy, w, lines.length * lh, s.radius(s.genes[i]), false);
        }
        lines.forEach((l, k) => ctx.fillText(l, cx, cy + (k - (lines.length - 1) / 2) * lh));
      });
      ctx.restore();
    },
    afterDraw(chart) {
      const { ctx } = chart;
      const sl = s.sizeLegend, cl = s.colorLegend;
      ctx.save();
      ctx.translate(-ox, -oy);
      ctx.fillStyle = '#000'; ctx.font = `9px ${FONT}`; ctx.textAlign = 'left'; ctx.textBaseline = 'middle';
      ctx.fillText('number of genes', sl.titleX, sl.titleY);
      ctx.fillStyle = '#f0f0f0';
      ctx.fillRect(sl.box[0], sl.box[1], sl.box[2], sl.box[3]);
      ctx.strokeStyle = '#000'; ctx.lineWidth = 0.8;
      s.sizeBreaks.forEach((b, k) => {
        ctx.beginPath(); ctx.arc(sl.cx, sl.cys[k], s.radius(b), 0, Math.PI * 2); ctx.stroke();
        ctx.fillStyle = '#333'; ctx.font = `8.5px ${FONT}`;
        ctx.fillText(String(b), sl.labelX, sl.cys[k]);
      });
      ctx.fillStyle = '#000'; ctx.font = `9px ${FONT}`;
      ctx.fillText('p.adjust', cl.titleX, cl.titleY);
      const [bx, by, bw, bh] = cl.bar;
      for (let k = 0; k < bh; k++) {
        ctx.fillStyle = gradientColor((k + 0.5) / bh);
        ctx.fillRect(bx, by + k, bw, 1.2);
      }
      ctx.font = `8.5px ${FONT}`;
      s.padjBreaks.forEach(b => {
        const yy = by + (b - pmin) / (pmax - pmin) * bh;
        ctx.strokeStyle = '#fff'; ctx.lineWidth = 0.8;
        ctx.beginPath(); ctx.moveTo(bx, yy); ctx.lineTo(bx + 3, yy); ctx.moveTo(bx + bw - 3, yy); ctx.lineTo(bx + bw, yy); ctx.stroke();
        ctx.fillStyle = '#333';
        ctx.fillText(s.padjFmt(b), cl.labelX, yy);
      });
      ctx.restore();
    }
  };
  new Chart(canvas, {
    type: 'scatter',
    data: { datasets: [nodeSet, ...edgeSets] },
    options: {
      responsive: false, animation: false, events: [],
      layout: { padding: 0 },
      plugins: { legend: { display: false }, tooltip: { enabled: false } },
      scales: {
        x: { type: 'linear', display: false, min: ox / 10, max: (ox + canvas.width) / 10 },
        y: { type: 'linear', display: false, reverse: true, min: oy / 10, max: (oy + canvas.height) / 10 }
      }
    },
    plugins: [decor]
  });
}

makeNetwork('networkB', {
  terms: termsB, x: xB, y: yB, genes: genesB, padj: padjB, edges: edgesB, sim: edgeSimB,
  offsets: lblOffB, leaders: [19], leftAligned: [26],
  radius: n => 1.8 * Math.sqrt(n),
  sizeBreaks: sizeBreaksB, padjBreaks: padjBreaksB, padjFmt: v => v.toFixed(4),
  sizeLegend: { titleX: 610, titleY: 91, box: [610, 99, 28, 76], cx: 624, cys: [110, 134, 161], labelX: 645 },
  colorLegend: { titleX: 614, titleY: 207, bar: [614, 216, 15, 75], labelX: 635 }
});
makeNetwork('networkD', {
  terms: termsD, x: xD, y: yD, genes: genesD, padj: padjD, edges: edgesD, sim: edgeSimD,
  offsets: lblOffD, leaders: [7, 12, 27], leftAligned: [],
  radius: n => 1.15 * Math.sqrt(n),
  sizeBreaks: sizeBreaksD, padjBreaks: padjBreaksD, padjFmt: v => v.toExponential(0).replace('e-', 'e\u22120'),
  sizeLegend: { titleX: 614, titleY: 561, box: [614, 567, 29, 74], cx: 628.5, cys: [579.3, 601.3, 627.3], labelX: 650 },
  colorLegend: { titleX: 614, titleY: 664, bar: [614, 673.3, 15, 75], labelX: 635 }
});
</script>
</body>
</html>
